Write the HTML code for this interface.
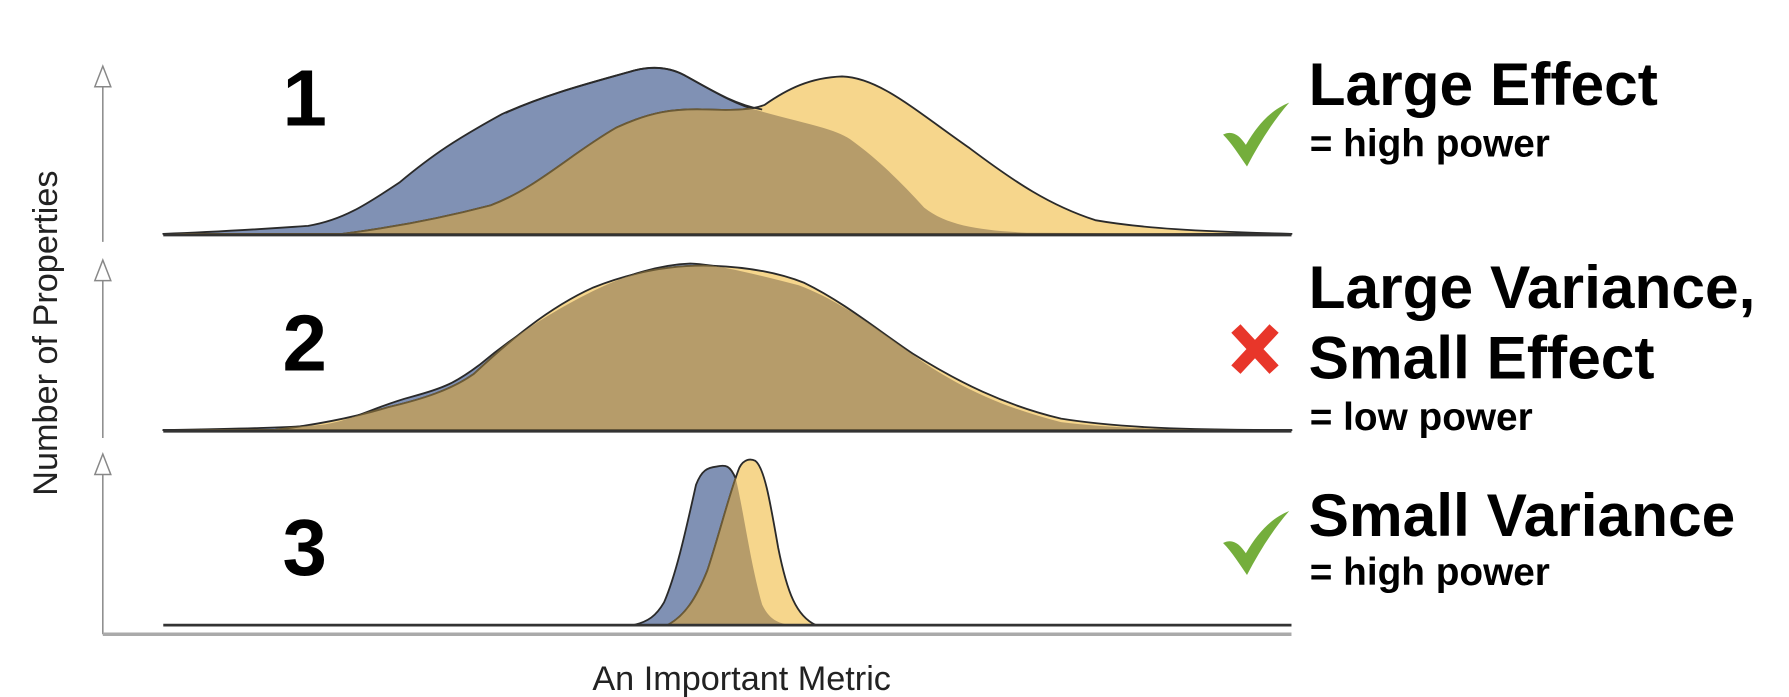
<!DOCTYPE html>
<html><head><meta charset="utf-8"><style>
html,body{margin:0;padding:0;background:#fff;width:1789px;height:697px;overflow:hidden}
svg{display:block}
text{font-family:"Liberation Sans",Arial,sans-serif}
</style></head><body>
<svg width="1789" height="697" viewBox="0 0 1568 611" xmlns="http://www.w3.org/2000/svg">
<defs>
<path id="b1" d="M143,205 C200,203 240,200 270,198 C300,193 320,180 350,160 C380,135 400,122 440,100 C480,82 520,72 555,62 C570,58 585,58 600,66 C625,80 645,92 665,97 C700,107 730,112 745,122 C770,140 790,160 810,182 C830,198 860,202 900,204 L1132,205 Z"/>
<path id="y1" d="M143,205 L300,205 C340,200 380,193 430,180 C470,165 500,135 540,112 C570,98 590,95 620,96 C645,97 660,96 670,92 C690,78 710,68 738,67 C770,68 800,95 850,130 C890,160 920,180 960,193 C1000,200 1050,203 1132,205 Z"/>
<path id="b2" d="M143,377 C200,376 260,375 285,372 C310,368 330,356 360,348 C390,340 400,335 420,320 C450,295 480,275 520,255 C550,240 580,232 605,231 C630,232 660,240 700,250 C740,265 770,290 810,318 C850,345 890,360 930,370 C980,376 1030,377 1132,377 Z"/>
<path id="y2" d="M143,377 L240,377 C280,372 310,366 340,357 C370,350 395,342 415,328 C445,300 480,270 520,252 C560,236 595,232 625,233 C650,234 680,238 705,248 C740,265 770,290 800,310 C840,335 880,355 930,367 C980,375 1040,377 1132,377 Z"/>
<path id="b3" d="M555,548 C568,545 575,540 582,528 C592,505 600,470 610,425 C615,412 620,410 628,409 C636,407 640,408 645,420 C652,450 658,495 668,530 C675,545 685,548 700,548 Z"/>
<path id="y3" d="M585,548 C600,540 610,525 620,500 C630,470 640,430 648,410 C652,402 658,402 662,404 C670,410 675,440 682,480 C690,520 698,540 715,548 Z"/>
<clipPath id="c1"><use href="#b1"/></clipPath>
<clipPath id="c2"><use href="#b2"/></clipPath>
<clipPath id="c3"><use href="#b3"/></clipPath>
</defs>
<g stroke="#888" stroke-width="1.3" fill="#fff">
<line x1="90" y1="72" x2="90" y2="212"/>
<line x1="90" y1="242" x2="90" y2="384"/>
<line x1="90" y1="410" x2="90" y2="556"/>
<polygon points="83,76 97,76 90,58"/>
<polygon points="83,246 97,246 90,228"/>
<polygon points="83,416 97,416 90,398"/>
<line x1="90" y1="556" x2="1132" y2="556" stroke="#aaa" stroke-width="3"/>
</g>
<g stroke="#2a2a2a" stroke-width="1.6" stroke-linejoin="round">
<use href="#b1" fill="#8091b4"/>
<use href="#y1" fill="#f6d68c"/>
<use href="#y1" fill="#b69c6a" stroke="#6b5a35" clip-path="url(#c1)"/>
<use href="#b2" fill="#8091b4"/>
<use href="#y2" fill="#f6d68c"/>
<use href="#y2" fill="#b69c6a" stroke="#6b5a35" clip-path="url(#c2)"/>
<use href="#b3" fill="#8091b4"/>
<use href="#y3" fill="#f6d68c"/>
<use href="#y3" fill="#b69c6a" stroke="#6b5a35" clip-path="url(#c3)"/>
</g>
<g fill="none" stroke="#2a2a2a" stroke-width="1.6">
<path d="M443,99 C480,82 520,72 555,62 C570,58 585,58 600,66 C625,80 645,92 668,96"/>
</g>
<g stroke="#333" stroke-width="2.5">
<line x1="143" y1="206" x2="1132" y2="206"/>
<line x1="143" y1="378" x2="1132" y2="378"/>
<line x1="143" y1="548" x2="1132" y2="548"/>
</g>
<g font-weight="bold" font-size="70" fill="#000" text-anchor="middle">
<text x="267" y="110">1</text>
<text x="267" y="325">2</text>
<text x="267" y="504">3</text>
</g>
<g fill="#000" font-weight="bold">
<text x="1147" y="92" font-size="53">Large Effect</text>
<text x="1148" y="137" font-size="34">= high power</text>
<text x="1147" y="270" font-size="53">Large Variance,</text>
<text x="1147" y="332" font-size="53">Small Effect</text>
<text x="1148" y="377" font-size="34">= low power</text>
<text x="1147" y="470" font-size="53">Small Variance</text>
<text x="1148" y="513" font-size="34">= high power</text>
</g>
<g fill="#74ae3c">
<path d="M1072,118 C1080,114 1086,118 1092,127 C1103,108 1115,96 1130,90 C1116,106 1104,125 1093,146 C1086,136 1080,126 1072,118 Z"/>
<path d="M1072,476 C1080,472 1086,476 1092,485 C1103,466 1115,454 1130,448 C1116,464 1104,483 1093,504 C1086,494 1080,484 1072,476 Z"/>
</g>
<g stroke="#e8362a" stroke-width="11" stroke-linecap="square">
<line x1="1087" y1="292" x2="1113" y2="320"/>
<line x1="1113" y1="292" x2="1087" y2="320"/>
</g>
<text x="0" y="0" font-size="30" fill="#222" text-anchor="middle" transform="translate(50,292) rotate(-90)">Number of Properties</text>
<text x="650" y="605" font-size="30" fill="#222" text-anchor="middle">An Important Metric</text>
</svg>
</body></html>
